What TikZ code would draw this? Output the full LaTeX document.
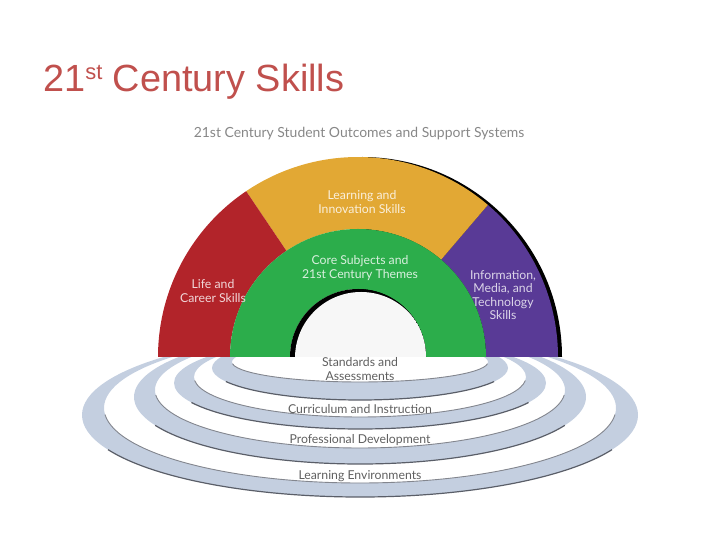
\documentclass[tikz,border=0pt]{standalone}
\usepackage{fontspec}
\setmainfont{Liberation Sans}
\newfontfamily\gill{Lato}
\definecolor{titlered}{RGB}{192,80,77}
\definecolor{archred}{RGB}{178,36,42}
\definecolor{archyellow}{RGB}{226,168,52}
\definecolor{archgreen}{RGB}{44,173,75}
\definecolor{archpurple}{RGB}{89,58,150}
\definecolor{ringblue}{RGB}{196,207,224}
\definecolor{ringline}{RGB}{90,94,104}
\definecolor{labelgray}{RGB}{95,95,95}
\definecolor{holewhite}{RGB}{247,247,247}
\begin{document}
\begin{tikzpicture}[x=1bp,y=1bp,
  seglabel/.style={font=\gill\fontsize{12.3}{13.4}\selectfont, align=center, inner sep=0pt},
  ringlabel/.style={font=\gill\fontsize{12.3}{13.4}\selectfont, align=center, inner sep=0pt, text=labelgray}]
\useasboundingbox (0,0) rectangle (720,540);

% title
\node[anchor=base west, inner sep=0pt, text=titlered,
      font=\fontsize{38}{40}\selectfont] (title) at (43,448)
  {21\raisebox{12bp}{\fontsize{22}{24}\selectfont st} Century Skills};
\node[font=\gill\fontsize{14}{16}\selectfont, text=labelgray!75, inner sep=0pt]
  (subtitle) at (359,406) {21st Century Student Outcomes and Support Systems};

% rings (outermost first)
\foreach \cyo/\rxo/\ryo/\cyi/\rxi/\ryi in
  {125/278/82/132/256/75, 143/226/67/150/205/58, 157/186/46/163/166/40, 172/148/32/178/128/20}{
  \fill[ringblue, even odd rule]
    (360,\cyo) ellipse [x radius=\rxo, y radius=\ryo]
    (360,\cyi) ellipse [x radius=\rxi, y radius=\ryi];
  \draw[ringline!75, line width=0.9]
    (360,\cyi) ++(185:{\rxi} and {\ryi})
    arc[start angle=185, end angle=355, x radius=\rxi, y radius=\ryi];
  \draw[ringline, line width=1.2]
    (360,\cyo) ++(205:{\rxo} and {\ryo})
    arc[start angle=205, end angle=335, x radius=\rxo, y radius=\ryo];
}

% arch
\begin{scope}[shift={(358,183)}]
  \fill[black] (204,0) arc[start angle=0, end angle=90, radius=200] -- (4,0) -- cycle;
  \fill[archpurple] (128,0) -- (200,0) arc[start angle=0, end angle=49.5, radius=200]
    -- (49.5:128) arc[start angle=49.5, end angle=0, radius=128] -- cycle;
  \fill[archyellow] (49.5:128) -- (49.5:200) arc[start angle=49.5, end angle=124, radius=200]
    -- (124:128) arc[start angle=124, end angle=49.5, radius=128] -- cycle;
  \fill[archred] (124:128) -- (124:200) arc[start angle=124, end angle=180, radius=200]
    -- (-128,0) arc[start angle=180, end angle=124, radius=128] -- cycle;
  \fill[archgreen] (68,0) -- (128,0) arc[start angle=0, end angle=180, radius=128]
    -- (-68,0) arc[start angle=180, end angle=0, radius=68] -- cycle;
  \fill[black] (68,0) arc[start angle=0, end angle=180, radius=68] -- cycle;
  \begin{scope}
    \clip (68,0) arc[start angle=0, end angle=180, radius=68] -- cycle;
    \fill[holewhite] (3,-1) circle[radius=66];
  \end{scope}
\end{scope}

% arch labels
\node[seglabel, text=white!82!archyellow] (learn) at (362,338) {Learning and\\Innovation Skills};
\node[seglabel, text=white!82!archgreen] (core) at (360,272) {Core Subjects and\\21st Century Themes};
\node[seglabel, text=white!82!archred] (life) at (213,249) {Life and\\Career Skills};
\node[seglabel, text=white!78!archpurple] (info) at (503,245) {Information,\\Media, and\\Technology\\Skills};

% ring labels
\node[ringlabel] (std) at (360,171) {Standards and\\Assessments};
\node[ringlabel] (curr) at (360,131) {Curriculum and Instruction};
\node[ringlabel] (prof) at (360,100) {Professional Development};
\node[ringlabel] (env) at (360,64) {Learning Environments};
\end{tikzpicture}
\end{document}
